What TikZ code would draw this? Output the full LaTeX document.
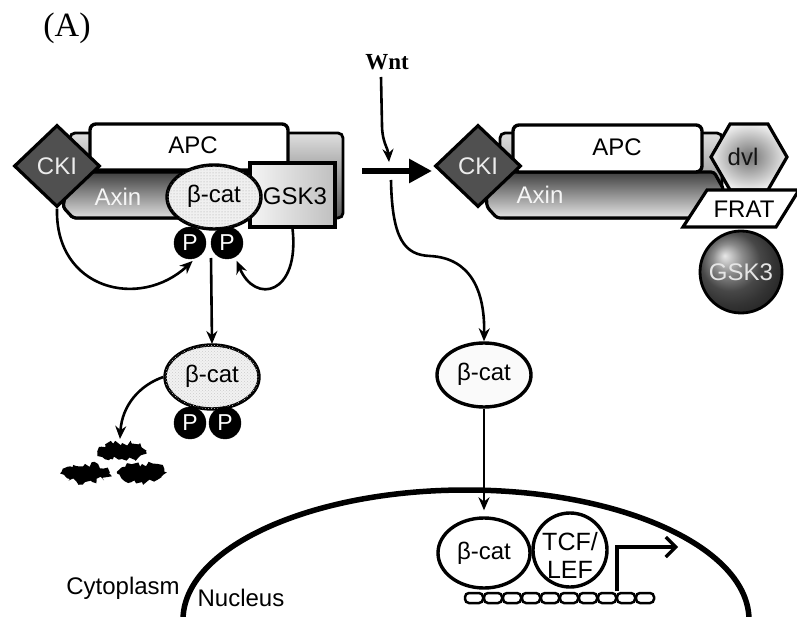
\documentclass[tikz,border=0pt]{standalone}
\usepackage{fontspec}
\setmainfont{Liberation Sans}
\newfontfamily\serifA{Liberation Serif}
\usetikzlibrary{shapes.geometric,arrows.meta,patterns,decorations.pathmorphing}
\definecolor{ckicol}{HTML}{505050}
\tikzset{
  lbl/.style={font=\fontsize{24pt}{26pt}\selectfont},
  bord/.style={draw=black, line width=3.4pt},
  arr/.style={line width=2.6pt, -{Stealth[length=13pt,width=11pt]}},
  pnode/.style={circle, fill=black, draw=black, minimum size=32pt, inner sep=0pt,
    text=white, font=\fontsize{23pt}{24pt}\selectfont},
  bcatnode/.style={ellipse, bord, minimum width=94pt, minimum height=64pt, inner sep=0pt, lbl},
  ckinode/.style={diamond, draw=black, line width=3.2pt, fill=ckicol, minimum width=86pt,
    minimum height=82pt, inner sep=0pt, text=gray!15, lbl},
  apcnode/.style={rectangle, rounded corners=6pt, bord, fill=white, inner sep=0pt},
  frag/.style={fill=black, decorate, decoration={random steps, segment length=3pt, amplitude=3pt}},
}
\begin{document}
\begin{tikzpicture}[x=1pt,y=-1pt]
\useasboundingbox (0,0) rectangle (797,617);
\pgfmathsetseed{7}

% title
\node[font=\serifA\fontsize{34pt}{36pt}\selectfont] (title) at (67,28) {(A)};

%% ---------- left complex ----------
\shade[top color=gray!25, bottom color=black!65, draw=black, line width=2.8pt, rounded corners=5pt]
  (70,133) rectangle (343,218);
\shade[top color=black!75, bottom color=gray!25, draw=black, line width=3.2pt, rounded corners=3pt]
  (70,172) -- (262,172) -- (262,218) -- (73,218) -- (63,207) -- cycle;
\node[text=gray!8, lbl] (axin1) at (118,197) {Axin};
\node[apcnode, minimum width=198pt, minimum height=46pt] (apc1) at (189,147) {};
\node[lbl] (apc1t) at (193,145) {APC};
\node[draw=black, line width=3.2pt, left color=gray!8, right color=gray!50,
  minimum width=85pt, minimum height=64pt, inner sep=0pt] (gsk1) at (292.5,195) {};
\node[lbl] (gsk1t) at (295,196) {GSK3};
\node[ckinode] (cki1) at (57,166) {CKI};
\node[bcatnode, fill=gray!12, postaction={pattern=dots, pattern color=gray!70}] (bcat1) at (214,197) {};
\node[lbl] (bcat1t) at (214,196) {β-cat};
\node[pnode] (p1a) at (190,243) {P};
\node[pnode] (p1b) at (227,243) {P};

\draw[arr, shorten >=4pt] (cki1.south) .. controls (55,290) and (140,310) .. (p1a.-70);
\draw[arr, shorten >=4pt] (gsk1.south) .. controls (300,295) and (255,305) .. (p1b.-60);
\coordinate (pmid) at (211,258);
\draw[arr] (pmid) -- (212,344);

%% ---------- lower-left beta-catenin ----------
\node[bcatnode, fill=gray!10, postaction={pattern=crosshatch dots, pattern color=gray!40}] (bcat2) at (212,377) {};
\node[lbl] (bcat2t) at (212,376) {β-cat};
\node[pnode] (p2a) at (190,423) {P};
\node[pnode] (p2b) at (225,423) {P};
\coordinate (fragtop) at (120,439);
\draw[arr] (bcat2.west) .. controls (140,385) and (122,405) .. (fragtop);
\fill[frag] (122,451) ellipse [x radius=24, y radius=8];
\fill[frag] (85,473) ellipse [x radius=24, y radius=9];
\fill[frag] (142,473) ellipse [x radius=24, y radius=9];

%% ---------- Wnt and transition arrow ----------
\node[font=\serifA\bfseries\fontsize{23pt}{25pt}\selectfont] (wnt) at (387,62) {Wnt};
\coordinate (wntend) at (389,162);
\draw[arr] (381,77) -- (382,125) .. controls (382,142) and (388,148) .. (wntend);
\coordinate (hL) at (362,171);
\coordinate (hR) at (432,171);
\draw[line width=6.5pt, -{Triangle[length=23pt,width=23pt]}] (hL) -- (hR);

%% ---------- right complex ----------
\shade[top color=gray!25, bottom color=black!60, draw=black, line width=2.8pt, rounded corners=5pt]
  (500,133) rectangle (722,218);
\shade[top color=black!75, bottom color=gray!20, draw=black, line width=3.2pt, rounded corners=3pt]
  (485,172) -- (714,172) -- (724,190) -- (702,218) -- (497,218) -- (487,207) -- cycle;
\node[text=gray!8, lbl] (axin2) at (540,195) {Axin};
\node[apcnode, minimum width=189pt, minimum height=47pt] (apc2) at (607.5,148.5) {};
\node[lbl] (apc2t) at (617,147) {APC};
\node[regular polygon, regular polygon sides=6, minimum size=76pt, inner sep=0pt,
  draw=black, line width=3.2pt, inner color=black!55, outer color=gray!15] (dvl) at (749,157) {};
\node[lbl, text=gray!15!black] (dvlt) at (743,157) {dvl};
\filldraw[fill=white, draw=black, line width=3.2pt] (707,190) -- (799,190) -- (776,227) -- (683,227) -- cycle;
\node[lbl] (frat) at (744,209) {FRAT};
\node[circle, minimum size=82pt, inner sep=0pt, draw=black, line width=2.8pt,
  shading=ball, ball color=black!60, text=gray!20, lbl] (gsk2) at (741,272) {GSK3};
\node[ckinode] (cki2) at (478,166) {CKI};

%% ---------- released beta-catenin ----------
\node[bcatnode, fill=gray!4] (bcat3) at (484,375) {};
\node[lbl] (bcat3t) at (484,374) {β-cat};
\coordinate (cstart) at (391,180);
\draw[arr] (cstart) .. controls (392,240) and (405,255) .. (430,256)
  .. controls (470,258) and (485,290) .. (bcat3.north);

%% ---------- nucleus ----------
\draw[line width=5.5pt] (183,620) .. controls (183,548) and (310,490) .. (466,490)
  .. controls (622,490) and (749,548) .. (749,620);
\node[bcatnode, fill=white, minimum height=70pt, minimum width=92pt] (bcat4) at (484,553) {};
\node[lbl] (bcat4t) at (484,553) {β-cat};
\draw[arr, shorten >=6pt] (bcat3.south) -- (bcat4.north);
\node[circle, bord, fill=white, minimum size=74pt, inner sep=0pt] (tcf) at (570,550) {};
\node[lbl, align=center, font=\fontsize{25pt}{28pt}\selectfont] (tcft) at (570,555) {TCF/\\LEF};
\foreach \i in {0,...,9}
  \draw[line width=2.5pt, fill=white, rounded corners=4pt] (465+\i*19,593) rectangle ++(18,10);
\coordinate (prom0) at (617,591);
\coordinate (prom2) at (678,547);
\draw[line width=3.2pt, -{Straight Barb[length=10pt,width=20pt]}] (prom0) |- (prom2);

\node[lbl] (cyto) at (123,588) {Cytoplasm};
\node[lbl] (nucl) at (241,598) {Nucleus};
\end{tikzpicture}
\end{document}
